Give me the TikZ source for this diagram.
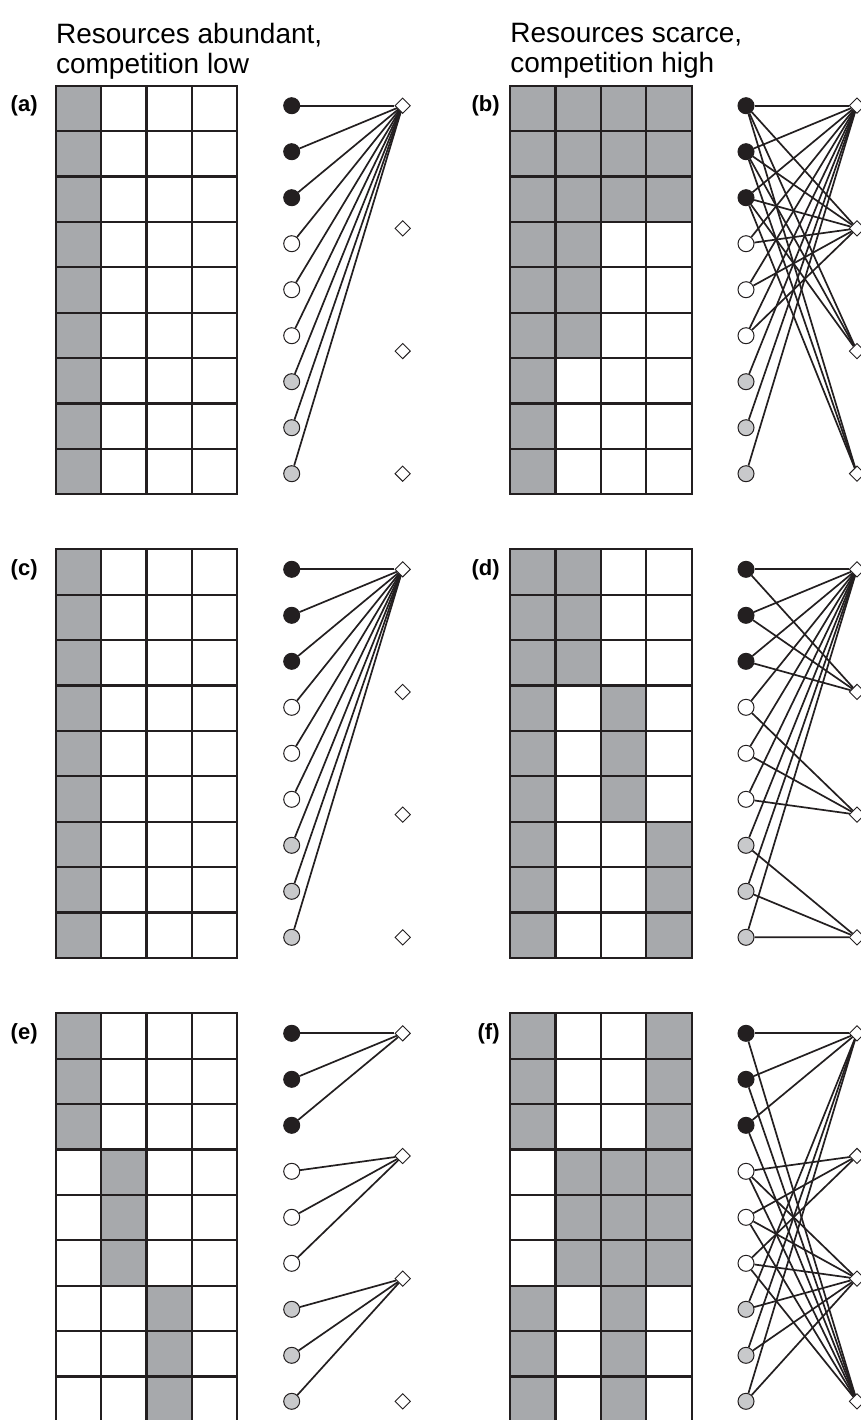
\documentclass[tikz,border=0pt]{standalone}
\usepackage{fontspec}
\setmainfont{Liberation Sans}
\usetikzlibrary{shapes.geometric}
\definecolor{inkblack}{HTML}{231F20}
\definecolor{cellgrey}{HTML}{A7A9AC}
\definecolor{dotgrey}{HTML}{C8C9CB}

\tikzset{
  gridline/.style={inkblack, line width=1.1pt},
  cellfill/.style={fill=cellgrey},
  consumer/.style={circle, draw=inkblack, line width=0.5pt, inner sep=0pt, minimum size=8pt},
  resource/.style={diamond, draw=inkblack, line width=0.45pt, fill=white, inner sep=0pt, minimum size=7.8pt},
  link/.style={inkblack, line width=0.85pt},
  panellabel/.style={font=\bfseries\fontsize{11}{13}\selectfont, anchor=east, inner sep=0pt},
  heading/.style={font=\fontsize{14}{15}\selectfont, align=left, anchor=north west, inner sep=0pt}
}

% one panel: name, left x, top y, label, label x, resources used by the three consumer groups
\newcommand{\foodweb}[8]{%
  \node[panellabel] (#1-lab) at (#5, #3+20) {#4};
  % consumers and resources
  \foreach \r/\shade in {1/inkblack,2/inkblack,3/inkblack,4/white,5/white,6/white,7/dotgrey,8/dotgrey,9/dotgrey}
    \node[consumer, fill=\shade] (#1-c\r) at (#2+236, #3+20+46*\r-46) {};
  \foreach \j in {1,...,4}
    \node[resource] (#1-r\j) at (#2+347, #3+20+122.67*\j-122.67) {};
  % shaded cells and links
  \foreach \g/\cols in {1/{#6},2/{#7},3/{#8}}
    \foreach \k in {1,2,3} {
      \pgfmathtruncatemacro{\r}{3*\g-3+\k}
      \foreach \j in \cols {
        \fill[cellfill] (#2+45.4*\j-45.4, #3+45.4*\r-45.4) rectangle ++(45.4,45.4);
        \draw[link] (#1-c\r) -- (#1-r\j);
      }
    }
  % grid
  \foreach \j in {0,...,4}
    \draw[gridline] (#2+45.4*\j, #3) -- ++(0,408.6);
  \foreach \r in {0,...,9}
    \draw[gridline] (#2, #3+45.4*\r) -- ++(181.6,0);
  \draw[gridline] (#2,#3) rectangle ++(181.6,408.6);
}

\begin{document}
\begin{tikzpicture}[x=0.5pt, y=-0.5pt]
    \useasboundingbox (0,0) rectangle (861,1420);
    \clip (0,0) rectangle (861,1420);

    % Column headings
    \node[heading] (lowhead) at (55.7, 23) {Resources abundant,\\competition low};
    \node[heading] (highhead) at (510, 23) {Resources scarce,\\competition high};

    % Panels
    \foodweb{a}{55.7}{85.7}{(a)}{38}{1}{1}{1}
    \foodweb{b}{510}{85.7}{(b)}{500}{1,2,3,4}{1,2}{1}
    \foodweb{c}{55.7}{549.3}{(c)}{38}{1}{1}{1}
    \foodweb{d}{510}{549.3}{(d)}{500}{1,2}{1,3}{1,4}
    \foodweb{e}{55.7}{1013.3}{(e)}{38}{1}{2}{3}
    \foodweb{f}{510}{1013.3}{(f)}{500}{1,4}{2,3,4}{1,3}
\end{tikzpicture}
\end{document}
